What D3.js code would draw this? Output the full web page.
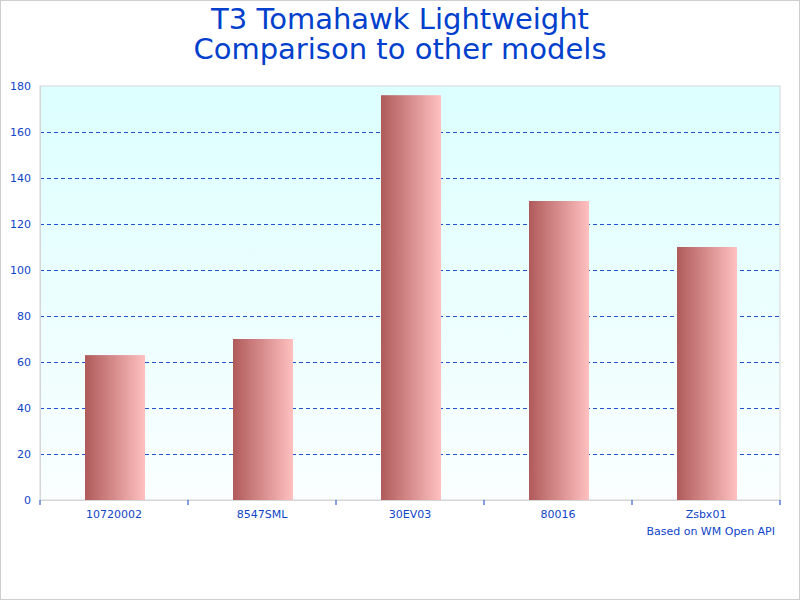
<!DOCTYPE html>
<html><head><meta charset="utf-8">
<script src="https://cdn.jsdelivr.net/npm/d3@7"></script>
<style>
body{margin:0;background:#fff;}
svg{display:block;font-family:"DejaVu Sans",sans-serif;}
</style></head>
<body>
<svg id="chart" width="800" height="600"></svg>
<script>
const titleLines=["T3 Tomahawk Lightweight","Comparison to other models"];
const models=["10720002","8547SML","30EV03","80016","Zsbx01"];
const values=[63,70,176,130,110];
const yTicks=[0,20,40,60,80,100,120,140,160,180];
const footnote="Based on WM Open API";

const svg=d3.select("#chart");
const plotL=40,plotR=780,plotT=86,plotB=500;
const blue="#0f45c8";

const defs=svg.append("defs");
const bg=defs.append("linearGradient").attr("id","bg").attr("x1",0).attr("y1",0).attr("x2",0).attr("y2",1);
bg.append("stop").attr("offset","0%").attr("stop-color","#dcffff");
bg.append("stop").attr("offset","100%").attr("stop-color","#fafefe");
const bar=defs.append("linearGradient").attr("id","bar").attr("x1",0).attr("y1",0).attr("x2",1).attr("y2",0);
bar.append("stop").attr("offset","0%").attr("stop-color","#b05a5a");
bar.append("stop").attr("offset","100%").attr("stop-color","#ffc0c0");

svg.append("rect").attr("x",0.5).attr("y",0.5).attr("width",799).attr("height",599)
  .attr("fill","#fff").attr("stroke","#cfcfcf");

svg.append("text").attr("x",400).attr("text-anchor","middle").attr("fill","#0040cc")
  .attr("font-size",29)
  .selectAll("tspan").data(titleLines).enter().append("tspan")
  .attr("x",400).attr("y",(d,i)=>29+i*30).text(d=>d);

const x=d3.scaleBand().domain(models).range([plotL,plotR]);
const y=d3.scaleLinear().domain([0,180]).range([plotB,plotT]);

svg.append("rect").attr("x",plotL).attr("y",plotT).attr("width",plotR-plotL).attr("height",plotB-plotT)
  .attr("fill","url(#bg)").attr("stroke","#d6d6d6");

const grid=svg.append("g").attr("transform",`translate(${plotL},0)`)
  .call(d3.axisLeft(y).tickValues(yTicks.filter(t=>t>0&&t<180)).tickSize(-(plotR-plotL)).tickFormat(""));
grid.select(".domain").remove();
grid.selectAll("line").attr("stroke","#2255cc").attr("stroke-dasharray","4,3");

svg.append("g").selectAll("rect").data(models).enter().append("rect")
  .attr("x",d=>x(d)+x.bandwidth()/2-29)
  .attr("width",60)
  .attr("y",(d,i)=>y(values[i]))
  .attr("height",(d,i)=>plotB-y(values[i]))
  .attr("fill","url(#bar)");

const ya=svg.append("g").attr("transform",`translate(${plotL},0)`)
  .call(d3.axisLeft(y).tickValues(yTicks).tickSize(0).tickPadding(9));
ya.select(".domain").attr("stroke","#d6d6d6");
ya.selectAll("text").attr("fill",blue).attr("font-size",11).attr("font-family","DejaVu Sans");

const xa=svg.append("g").attr("transform",`translate(0,${plotB})`)
  .call(d3.axisBottom(x).tickSize(0).tickPadding(10));
xa.select(".domain").attr("stroke","#d6d6d6");
xa.selectAll("text").attr("fill",blue).attr("font-size",11).attr("font-family","DejaVu Sans");
const edges=models.map(m=>x(m)).concat([plotR]);
svg.append("g").selectAll("line").data(edges).enter().append("line")
  .attr("x1",d=>d).attr("x2",d=>d).attr("y1",plotB).attr("y2",plotB+5)
  .attr("stroke",blue);

svg.append("text").attr("x",775).attr("y",535).attr("text-anchor","end")
  .attr("fill",blue).attr("font-size",11).text(footnote);
</script>
</body></html>
